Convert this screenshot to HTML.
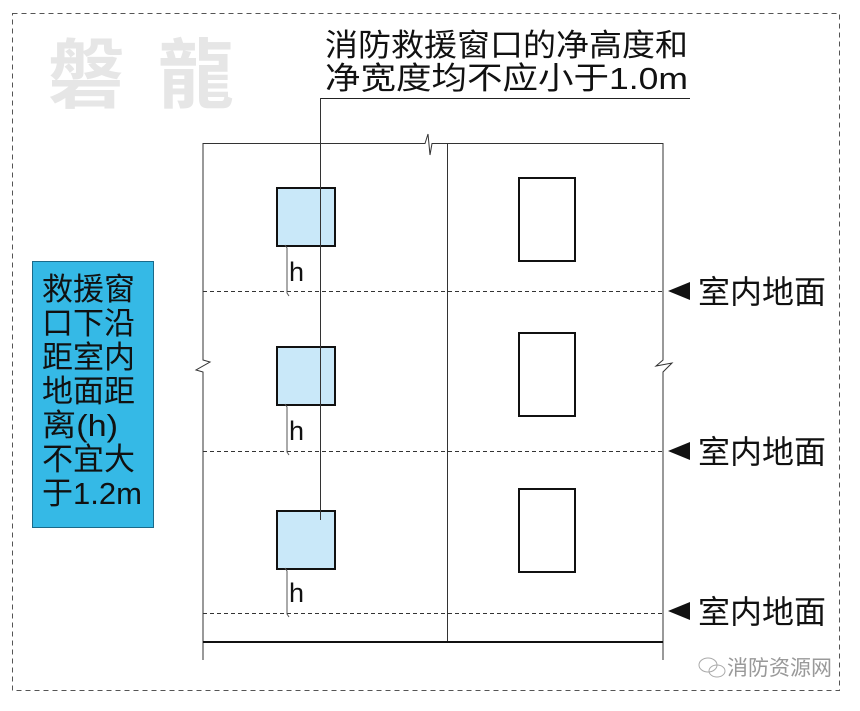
<!DOCTYPE html>
<html><head><meta charset="utf-8"><style>
body{margin:0;background:#fff;}
svg text{font-family:"Liberation Sans","Noto Sans CJK SC",sans-serif;}
</style></head><body>
<svg width="860" height="706" viewBox="0 0 860 706" xmlns="http://www.w3.org/2000/svg">
<rect x="12.5" y="13.5" width="827" height="677" fill="none" stroke="#555" stroke-dasharray="5,4" stroke-width="1"/>
<text x="48" y="102" font-size="76" font-weight="bold" fill="#e6e6e6">磐</text>
<text x="158" y="102" font-size="76" font-weight="bold" fill="#e6e6e6">龍</text>
<text x="325" y="56" font-size="31" fill="#111" textLength="363" lengthAdjust="spacingAndGlyphs">消防救援窗口的净高度和</text>
<text x="325" y="89" font-size="31" fill="#111" textLength="363" lengthAdjust="spacingAndGlyphs">净宽度均不应小于1.0m</text>
<line x1="320" y1="98.5" x2="690" y2="98.5" stroke="#222"/>
<g stroke="#333" fill="none" stroke-width="1">
<polyline points="203,660 203,372 196,370 210,362 203,360 203,143.5 425,143.5 428,134 430,155 432,143.5 663,143.5 663,360 656,366 672,363 663,372 663,660"/>
<line x1="447.5" y1="143" x2="447.5" y2="641"/>
</g>
<line x1="203" y1="642" x2="663" y2="642" stroke="#111" stroke-width="2"/>
<g stroke="#333" stroke-dasharray="4,3">
<line x1="203" y1="291.5" x2="663" y2="291.5"/>
<line x1="203" y1="451.5" x2="663" y2="451.5"/>
<line x1="203" y1="613.5" x2="663" y2="613.5"/>
</g>
<g fill="#c9e8f9" stroke="#111" stroke-width="2">
<rect x="277" y="188" width="58" height="58"/>
<rect x="277" y="347" width="58" height="58"/>
<rect x="277" y="511" width="58" height="58"/>
</g>
<g fill="#fff" stroke="#111" stroke-width="2">
<rect x="519" y="178" width="56" height="83"/>
<rect x="519" y="333" width="56" height="83"/>
<rect x="519" y="489" width="56" height="83"/>
</g>
<line x1="320.5" y1="98" x2="320.5" y2="520" stroke="#333"/>
<g stroke="#555" fill="none">
<polyline points="285,245 287,248 287,293 289,296"/>
<polyline points="285,404 287,407 287,452 289,455"/>
<polyline points="285,568 287,571 287,614 289,617"/>
</g>
<g font-size="27" fill="#111">
<text x="289" y="281">h</text>
<text x="289" y="440">h</text>
<text x="289" y="602">h</text>
</g>
<g fill="#111">
<polygon points="668,291 690,282 690,300"/>
<polygon points="668,451 690,442 690,460"/>
<polygon points="668,611 690,602 690,620"/>
</g>
<g font-size="32" fill="#111">
<text x="698" y="303">室内地面</text>
<text x="698" y="463">室内地面</text>
<text x="698" y="623">室内地面</text>
</g>
<rect x="32.5" y="261.5" width="121" height="266" fill="#35b9e6" stroke="#1a6a8a"/>
<g font-size="31" fill="#111">
<text x="42" y="300">救援窗</text>
<text x="42" y="334">口下沿</text>
<text x="42" y="368">距室内</text>
<text x="42" y="402">地面距</text>
<text x="42" y="436" textLength="76" lengthAdjust="spacingAndGlyphs">离(h)</text>
<text x="42" y="470">不宜大</text>
<text x="42" y="504" textLength="100" lengthAdjust="spacingAndGlyphs">于1.2m</text>
</g>
<g stroke="#aaa" fill="none">
<ellipse cx="708" cy="665" rx="9" ry="7"/>
<ellipse cx="717" cy="671" rx="8" ry="6"/>
</g>
<text x="727" y="675" font-size="21" fill="#999">消防资源网</text>
</svg>
</body></html>
